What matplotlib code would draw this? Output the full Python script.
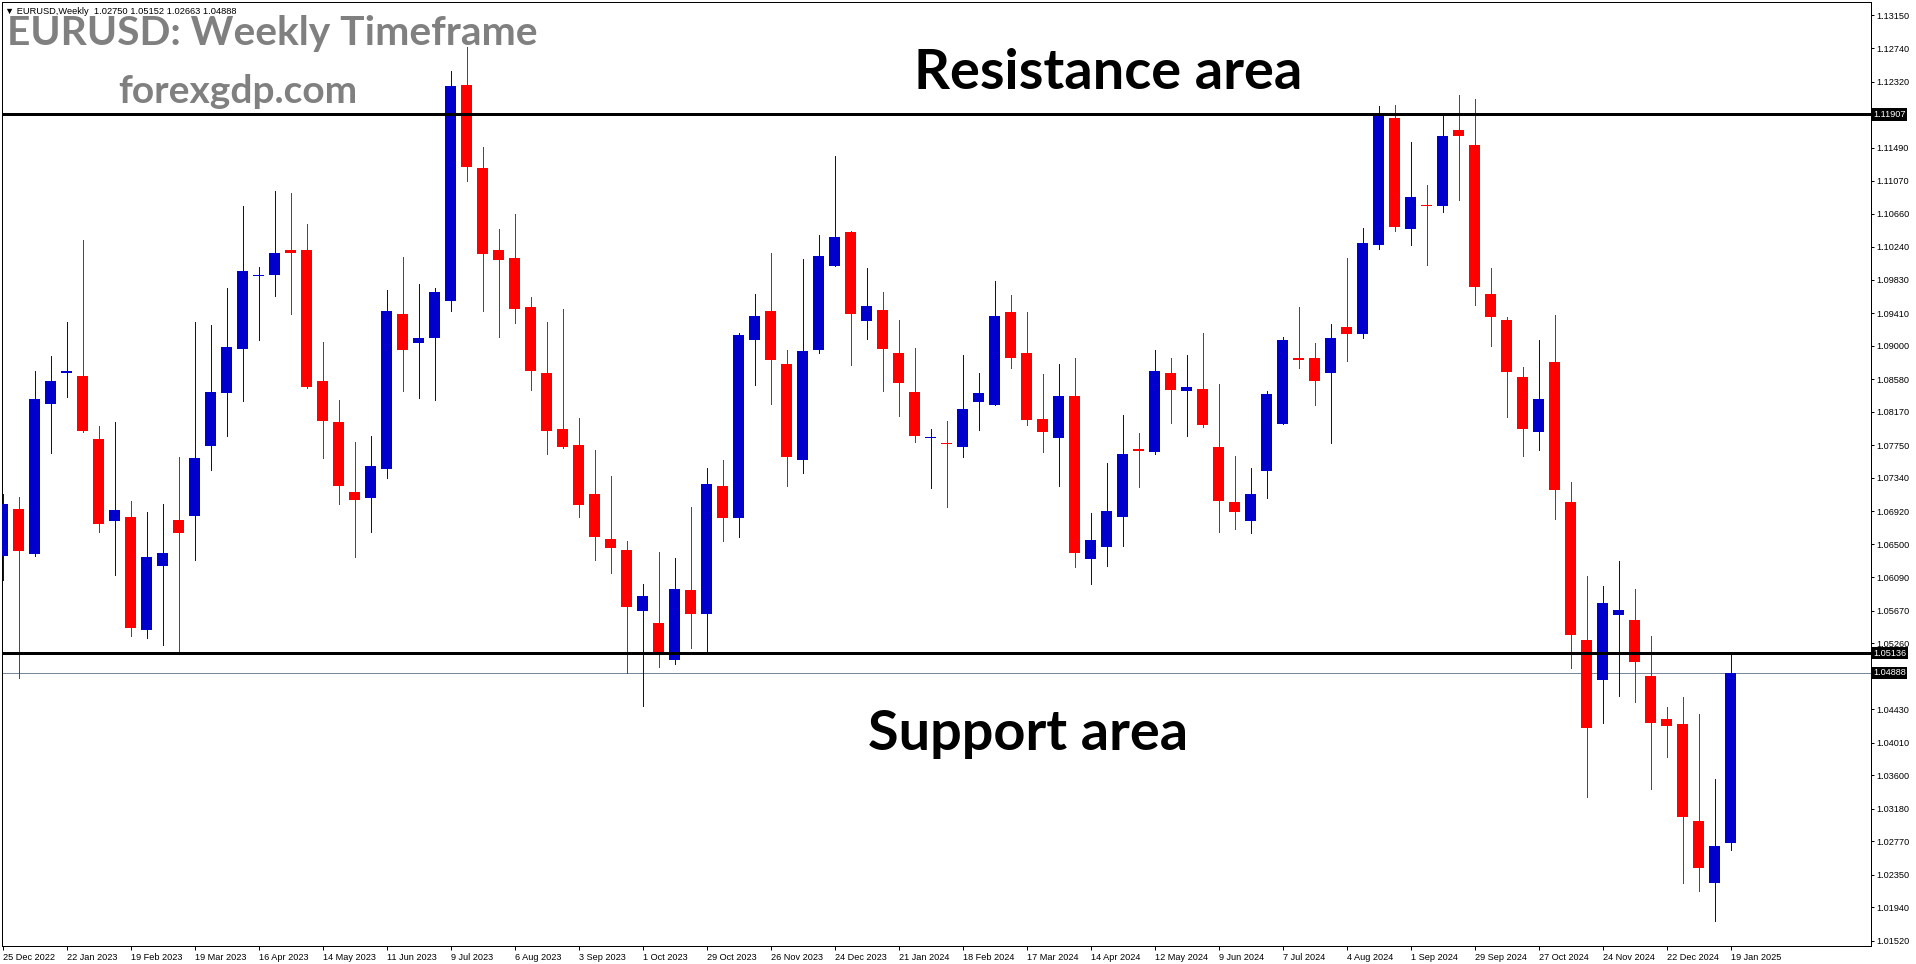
import matplotlib
matplotlib.use('Agg')
import matplotlib.pyplot as plt
import matplotlib.transforms as mtransforms
import numpy as np

# ---------------- data (EURUSD weekly candles, 25 Dec 2022 .. 19 Jan 2025) ----------------
opens = [1.0635, 1.0695, 1.0638, 1.0827, 1.0865, 1.0862, 1.0783, 1.0679, 1.0685, 1.0542,
         1.0623, 1.0681, 1.0686, 1.0774, 1.0840, 1.0896, 1.0987, 1.0989, 1.1020, 1.1020,
         1.0856, 1.0804, 1.0716, 1.0709, 1.0745, 1.0940, 1.0903, 1.0909, 1.0956, 1.1227,
         1.1123, 1.1020, 1.1010, 1.0949, 1.0866, 1.0795, 1.0775, 1.0714, 1.0657, 1.0643,
         1.0566, 1.0551, 1.0505, 1.0593, 1.0563, 1.0724, 1.0683, 1.0907, 1.0944, 1.0877,
         1.0756, 1.0895, 1.1000, 1.1043, 1.0931, 1.0945, 1.0891, 1.0842, 1.0784, 1.0778,
         1.0772, 1.0829, 1.0825, 1.0942, 1.0891, 1.0808, 1.0784, 1.0837, 1.0632, 1.0647,
         1.0685, 1.0769, 1.0766, 1.0866, 1.0843, 1.0845, 1.0773, 1.0703, 1.0680, 1.0742,
         1.0802, 1.0885, 1.0884, 1.0865, 1.0924, 1.0915, 1.1027, 1.1186, 1.1047, 1.1077,
         1.1076, 1.1171, 1.1152, 1.0965, 1.0932, 1.0861, 1.0792, 1.0879, 1.0703, 1.0530,
         1.0480, 1.0561, 1.0555, 1.0485, 1.0431, 1.0424, 1.0302, 1.0224, 1.02750]
highs = [1.0714, 1.0710, 1.0868, 1.0887, 1.0930, 1.1033, 1.0799, 1.0804, 1.0705, 1.0691,
         1.0701, 1.0760, 1.0930, 1.0926, 1.0972, 1.1076, 1.0999, 1.1094, 1.1092, 1.1053,
         1.0905, 1.0832, 1.0779, 1.0786, 1.0970, 1.1012, 1.0977, 1.0973, 1.1245, 1.1276,
         1.1150, 1.1046, 1.1065, 1.0961, 1.0930, 1.0946, 1.0809, 1.0769, 1.0736, 1.0655,
         1.0600, 1.0640, 1.0633, 1.0697, 1.0746, 1.0756, 1.0916, 1.0965, 1.1016, 1.0895,
         1.1009, 1.1039, 1.1138, 1.1044, 1.0998, 1.0967, 1.0932, 1.0897, 1.0795, 1.0805,
         1.0888, 1.0866, 1.0981, 1.0964, 1.0942, 1.0864, 1.0877, 1.0884, 1.0690, 1.0752,
         1.0813, 1.0790, 1.0895, 1.0884, 1.0888, 1.0916, 1.0852, 1.0761, 1.0746, 1.0843,
         1.0911, 1.0948, 1.0903, 1.0927, 1.1010, 1.1048, 1.1201, 1.1202, 1.1156, 1.1102,
         1.1189, 1.1215, 1.1210, 1.0997, 1.0936, 1.0873, 1.0907, 1.0938, 1.0728, 1.0611,
         1.0598, 1.0629, 1.0594, 1.0535, 1.0446, 1.0458, 1.0437, 1.0355, 1.05152]
lows = [1.0605, 1.0482, 1.0636, 1.0765, 1.0835, 1.0792, 1.0666, 1.0612, 1.0535, 1.0532,
        1.0524, 1.0514, 1.0631, 1.0744, 1.0787, 1.0831, 1.0907, 1.0962, 1.0940, 1.0847,
        1.0759, 1.0701, 1.0634, 1.0666, 1.0733, 1.0843, 1.0834, 1.0832, 1.0943, 1.1107,
        1.0943, 1.0911, 1.0928, 1.0844, 1.0764, 1.0771, 1.0685, 1.0631, 1.0614, 1.0488,
        1.0447, 1.0496, 1.0500, 1.0520, 1.0516, 1.0655, 1.0660, 1.0851, 1.0827, 1.0723,
        1.0740, 1.0891, 1.1000, 1.0876, 1.0908, 1.0843, 1.0812, 1.0779, 1.0721, 1.0697,
        1.0760, 1.0794, 1.0825, 1.0872, 1.0800, 1.0766, 1.0724, 1.0622, 1.0600, 1.0623,
        1.0648, 1.0722, 1.0764, 1.0803, 1.0786, 1.0798, 1.0666, 1.0670, 1.0664, 1.0708,
        1.0802, 1.0872, 1.0825, 1.0777, 1.0881, 1.0910, 1.1022, 1.1044, 1.1026, 1.1001,
        1.1068, 1.1083, 1.0951, 1.0900, 1.0810, 1.0761, 1.0769, 1.0682, 1.0495, 1.0333,
        1.0425, 1.0460, 1.0452, 1.0343, 1.0383, 1.0224, 1.0214, 1.0177, 1.02663]
closes = [1.0701, 1.0642, 1.0833, 1.0856, 1.0868, 1.0793, 1.0676, 1.0693, 1.0545, 1.0634,
          1.0639, 1.0664, 1.0759, 1.0842, 1.0898, 1.0994, 1.0989, 1.1016, 1.1017, 1.0848,
          1.0805, 1.0724, 1.0706, 1.0749, 1.0943, 1.0894, 1.0910, 1.0968, 1.1226, 1.1124,
          1.1015, 1.1008, 1.0946, 1.0868, 1.0793, 1.0773, 1.0700, 1.0660, 1.0645, 1.0572,
          1.0585, 1.0512, 1.0594, 1.0563, 1.0726, 1.0683, 1.0913, 1.0937, 1.0882, 1.0760,
          1.0893, 1.1013, 1.1037, 1.0940, 1.0950, 1.0896, 1.0853, 1.0786, 1.0785, 1.0776,
          1.0820, 1.0840, 1.0937, 1.0884, 1.0807, 1.0791, 1.0837, 1.0639, 1.0656, 1.0692,
          1.0764, 1.0768, 1.0868, 1.0844, 1.0848, 1.0800, 1.0705, 1.0691, 1.0714, 1.0839,
          1.0907, 1.0882, 1.0855, 1.0910, 1.0915, 1.1029, 1.1189, 1.1049, 1.1087, 1.1075,
          1.1164, 1.1163, 1.0974, 1.0936, 1.0867, 1.0795, 1.0833, 1.0718, 1.0536, 1.0419,
          1.0577, 1.0568, 1.0502, 1.0426, 1.0422, 1.0308, 1.0243, 1.0271, 1.04888]

date_labels = ['25 Dec 2022', '22 Jan 2023', '19 Feb 2023', '19 Mar 2023', '16 Apr 2023',
               '14 May 2023', '11 Jun 2023', '9 Jul 2023', '6 Aug 2023', '3 Sep 2023',
               '1 Oct 2023', '29 Oct 2023', '26 Nov 2023', '24 Dec 2023', '21 Jan 2024',
               '18 Feb 2024', '17 Mar 2024', '14 Apr 2024', '12 May 2024', '9 Jun 2024',
               '7 Jul 2024', '4 Aug 2024', '1 Sep 2024', '29 Sep 2024', '27 Oct 2024',
               '24 Nov 2024', '22 Dec 2024', '19 Jan 2025']
price_ticks = [1.13150, 1.12740, 1.12320, 1.11490, 1.11070, 1.10660, 1.10240, 1.09830,
               1.09410, 1.09000, 1.08580, 1.08170, 1.07750, 1.07340, 1.06920, 1.06500,
               1.06090, 1.05670, 1.05260, 1.04430, 1.04010, 1.03600, 1.03180,
               1.02770, 1.02350, 1.01940, 1.01520]
resistance_level = 1.11907
support_level = 1.05136
bid_level = 1.04888
header_text = '\u25BC EURUSD,Weekly  1.02750 1.05152 1.02663 1.04888'
title_text = 'EURUSD: Weekly Timeframe'
site_text = 'forexgdp.com'
resistance_text = 'Resistance area'
support_text = 'Support area'

# ---------------- layout ----------------
W, H, DPI = 1916, 964, 100
PX = 72.0 / DPI                     # one pixel in points
fig = plt.figure(figsize=(W / DPI, H / DPI), dpi=DPI)
fig.patch.set_facecolor('white')

AX_L, AX_R, AX_T, AX_B = 2, 1871, 2, 946       # plot frame in pixels
ax = fig.add_axes([AX_L / W, (H - AX_B) / H, (AX_R - AX_L) / W, (AX_B - AX_T) / H])
ax.set_facecolor('white')

STEP = 16.0           # pixels per bar
X0 = 3.0              # pixel x of the first bar
PPU = 7955.0          # pixels per price unit
ANCHOR_Y = 653.0      # pixel y of the support level
ax.set_xlim((AX_L - X0) / STEP, (AX_R - X0) / STEP)
ax.set_ylim(support_level - (AX_B - ANCHOR_Y) / PPU, support_level - (AX_T - ANCHOR_Y) / PPU)

BLUE, RED = '#0000CC', '#FF0000'
o = np.array(opens); h = np.array(highs); l = np.array(lows); c = np.array(closes)
idx = np.arange(len(o))
cols = np.where(c >= o, BLUE, RED)

ax.vlines(idx, l, h, colors=cols, linewidth=1.0 * PX, antialiased=False, zorder=3)
body_h = np.maximum(np.abs(c - o), 1.2 / PPU)
ax.bar(idx, body_h, bottom=np.minimum(o, c), width=11.0 / STEP, color=cols,
       linewidth=0, antialiased=False, zorder=4)

ax.axhline(resistance_level, color='black', linewidth=3 * PX, zorder=5)
ax.axhline(support_level, color='black', linewidth=3 * PX, zorder=5)
ax.axhline(bid_level, color='#778899', linewidth=1 * PX, zorder=2)

for s in ax.spines.values():
    s.set_linewidth(1 * PX)
    s.set_color('black')

TICK_FONT = ['Liberation Sans', 'DejaVu Sans']
ax.yaxis.tick_right()
ax.set_yticks(price_ticks)
ax.set_yticklabels(['%.5f' % v for v in price_ticks], fontsize=6.6, family=TICK_FONT)
ax.tick_params(axis='y', direction='out', length=3 * PX, width=1 * PX, pad=2.5 * PX,
               colors='black')

tick_pos = np.arange(0, len(o), 4)[:len(date_labels)]
ax.set_xticks(tick_pos)
ax.set_xticklabels(date_labels, fontsize=6.6, family=TICK_FONT)
ax.tick_params(axis='x', direction='out', length=4 * PX, width=1 * PX, pad=3 * PX,
               colors='black')
for t in ax.get_xticklabels():
    t.set_horizontalalignment('left')

# price labels with black boxes on the axis
lab_tr = mtransforms.blended_transform_factory(ax.transAxes, ax.transData)
lab_tr = lab_tr + mtransforms.ScaledTranslation(2 / DPI, 0, fig.dpi_scale_trans)
for v in (resistance_level, support_level, bid_level):
    ax.text(1.0, v, '%.5f' % v, transform=lab_tr, ha='left', va='center',
            fontsize=6.6, family=TICK_FONT, color='white', zorder=10, clip_on=False,
            bbox=dict(boxstyle='square,pad=0.18', facecolor='black', edgecolor='none'))

# ---------------- texts fitted to the reference boxes ----------------
renderer = fig.canvas.get_renderer()


def fitted_text(s, left_px, baseline_px, width_px, **kw):
    t = fig.text(left_px / W, 1 - baseline_px / H, s, ha='left', va='baseline', **kw)
    for _ in range(3):
        bb = t.get_window_extent(renderer)
        t.set_fontsize(t.get_fontsize() * width_px / bb.width)
    return t


GRAY = '#808080'
fitted_text(header_text, 5, 14, 231, fontsize=7, family=TICK_FONT, color='black')
fitted_text(title_text, 7, 45, 529, fontsize=24, family=['Lato', 'DejaVu Sans'],
            fontweight='bold', color=GRAY)
fitted_text(site_text, 118, 103, 239, fontsize=20, family=['Lato', 'DejaVu Sans'],
            fontweight='bold', color=GRAY)
fitted_text(resistance_text, 914, 89, 389, fontsize=36, family=['Lato', 'DejaVu Sans'],
            fontweight='bold', color='black')
fitted_text(support_text, 868, 750, 320, fontsize=36, family=['Lato', 'DejaVu Sans'],
            fontweight='bold', color='black')

fig.savefig('out.png', dpi=DPI, facecolor='white')
